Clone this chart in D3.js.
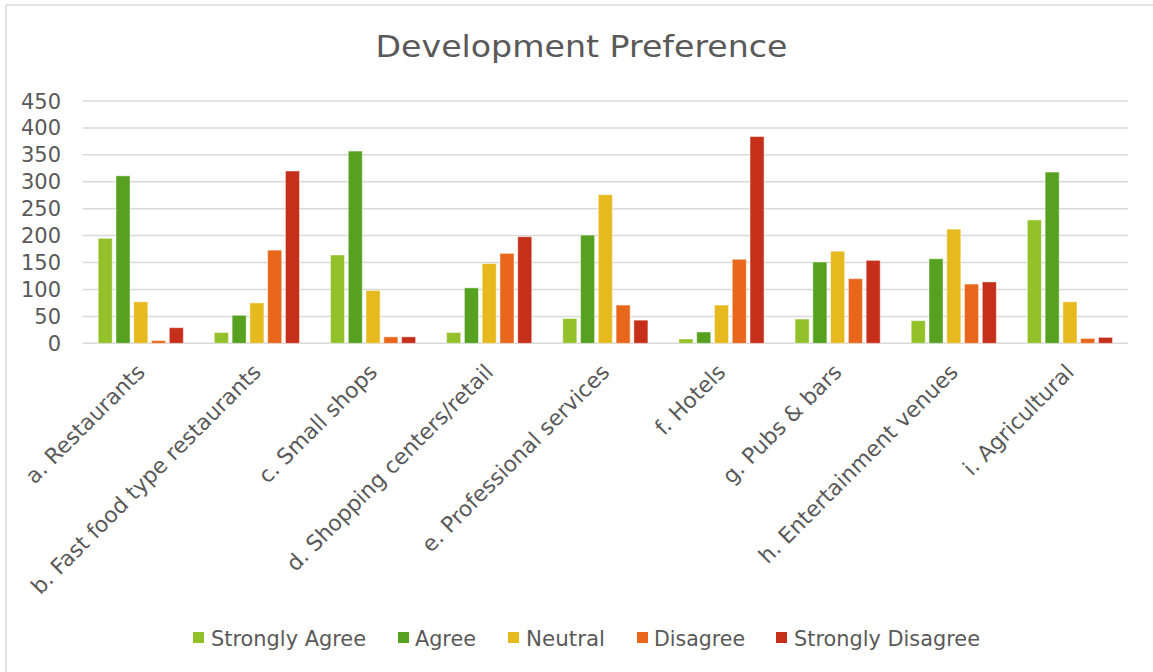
<!DOCTYPE html>
<html><head><meta charset="utf-8">
<script src="https://cdn.jsdelivr.net/npm/d3@7"></script>
<style>
html,body{margin:0;padding:0;background:#fff;}
svg{display:block;font-family:"DejaVu Sans",sans-serif;}
</style></head>
<body><svg id="chart" width="1153" height="672"></svg>
<script>
const title = "Development Preference";
const categories = ["a. Restaurants","b. Fast food type restaurants","c. Small shops","d. Shopping centers/retail","e. Professional services","f. Hotels","g. Pubs & bars","h. Entertainment venues","i. Agricultural"];
const seriesNames = ["Strongly Agree","Agree","Neutral","Disagree","Strongly Disagree"];
const seriesColors = ["#93C12A","#57A121","#E6B91F","#E8671A","#C6301B"];
const stronglyAgree    = [195, 20, 164, 20, 46, 8, 45, 42, 229];
const agree            = [311, 52, 357, 103, 201, 21, 151, 157, 318];
const neutral          = [77, 75, 98, 148, 276, 71, 171, 212, 77];
const disagree         = [5, 173, 12, 167, 71, 156, 120, 110, 9];
const stronglyDisagree = [29, 320, 12, 198, 43, 384, 154, 114, 11];
const yTicks = [0,50,100,150,200,250,300,350,400,450];

const seriesValues = [stronglyAgree, agree, neutral, disagree, stronglyDisagree];
const svg = d3.select("#chart");
const W = 1153, H = 672;
const plot = {left: 82.7, right: 1128, top: 101, bottom: 343.3};

// chart border (left and top visible)
svg.append("line").attr("x1",6).attr("x2",6).attr("y1",5).attr("y2",H).attr("stroke","#d9d9d9").attr("stroke-width",1.5);
svg.append("line").attr("x1",6).attr("x2",W).attr("y1",5).attr("y2",5).attr("stroke","#d9d9d9").attr("stroke-width",1.5);

const x0 = d3.scaleBand().domain(categories).range([plot.left, plot.right]).paddingInner(0.267).paddingOuter(0.1335);
const x1 = d3.scaleBand().domain(seriesNames).range([0, x0.bandwidth()]).paddingInner(0.21);
const y = d3.scaleLinear().domain([0,450]).range([plot.bottom, plot.top]);

// gridlines
svg.append("g").selectAll("line").data(yTicks).join("line")
  .attr("x1",plot.left).attr("x2",plot.right)
  .attr("y1",d=>y(d)).attr("y2",d=>y(d))
  .attr("stroke","#d9d9d9").attr("stroke-width",1.5);

// y labels
svg.append("g").selectAll("text").data(yTicks).join("text")
  .attr("x",61).attr("y",d=>y(d)).attr("dy","0.36em")
  .attr("text-anchor","end").attr("fill","#595959").attr("font-size",21)
  .text(d=>d);

// bars
const groups = svg.append("g").selectAll("g").data(categories).join("g")
  .attr("transform",c=>`translate(${x0(c)},0)`);
groups.selectAll("rect").data((c,i)=>seriesNames.map((s,j)=>({s, v: seriesValues[j][i], color: seriesColors[j]})))
  .join("rect")
  .attr("x",d=>x1(d.s)).attr("width",x1.bandwidth())
  .attr("y",d=>y(d.v)).attr("height",d=>y(0)-y(d.v))
  .attr("fill",d=>d.color)
  .attr("stroke","rgba(255,255,255,0.45)").attr("stroke-width",1);

// category labels
svg.append("g").selectAll("text").data(categories).join("text")
  .attr("transform",c=>`translate(${x0(c)+x0.bandwidth()/2},368) rotate(-45)`)
  .attr("text-anchor","end").attr("dy","0.35em")
  .attr("fill","#595959").attr("font-size",21.8)
  .text(c=>c);

// title
const t = svg.append("text").attr("x",(375+788)/2).attr("y",57).attr("text-anchor","middle")
  .attr("fill","#595959").attr("font-size",30).text(title);
t.attr("textLength",412).attr("lengthAdjust","spacingAndGlyphs");

// legend
const legendItems = [
  {sq:193, tx:211, tw:155},
  {sq:398, tx:415, tw:61},
  {sq:508, tx:526, tw:79},
  {sq:637, tx:654, tw:91},
  {sq:776, tx:794, tw:186}
];
const lg = svg.append("g").selectAll("g").data(seriesNames).join("g");
lg.append("rect").attr("x",(d,i)=>legendItems[i].sq).attr("y",632).attr("width",11).attr("height",11)
  .attr("fill",(d,i)=>seriesColors[i]);
lg.append("text").attr("x",(d,i)=>legendItems[i].tx).attr("y",638).attr("dy","0.36em")
  .attr("fill","#595959").attr("font-size",22)
  .attr("textLength",(d,i)=>legendItems[i].tw).attr("lengthAdjust","spacingAndGlyphs")
  .text(d=>d);
</script></body></html>
